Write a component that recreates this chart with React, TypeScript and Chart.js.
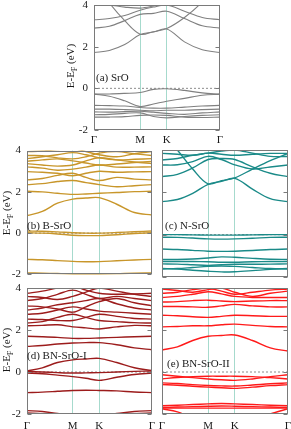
import React, { useEffect, useRef } from 'react';
import { Chart, registerables } from 'chart.js';

Chart.register(...registerables);

// k-path sample points: Γ ... M ... K ... Γ  (|ΓM| : |MK| : |KΓ| = 0.866 : 0.5 : 1)
const KX = [0, 0.289, 0.577, 0.866, 1.116, 1.366, 1.699, 2.033, 2.366];
const XMAX = 2.366;
const X_TICKS = [0, 0.866, 1.366, 2.366];
const X_LABELS = ['Γ', 'M', 'K', 'Γ'];
const Y_TICKS = [-2, 0, 2, 4];
const Y_MIN = -2;
const Y_MAX = 4;

// (a) SrO
const SRO_BANDS = [
  [1.72, 1.82, 2.1, 2.58, 2.7, 2.85, 2.23, 1.85, 1.72],
  [5.2, 4.1, 3.25, 2.6, 2.72, 2.87, 3.4, 4.15, 5.2],
  [2.89, 2.98, 3.25, 3.55, 3.6, 3.7, 3.35, 3.0, 2.89],
  [3.29, 3.35, 3.5, 3.75, 3.9, 4.0, 3.7, 3.4, 3.29],
  [4.05, 4.0, 3.9, 3.85, 3.95, 4.1, 4.2, 4.1, 4.05],
  [-0.28, -0.27, -0.24, -0.2, -0.05, -0.02, -0.1, -0.22, -0.28],
  [-0.28, -0.38, -0.6, -0.87, -0.75, -0.62, -0.48, -0.33, -0.28],
  [-0.82, -0.83, -0.85, -0.92, -0.95, -0.95, -0.9, -0.85, -0.82],
  [-1.0, -1.0, -1.02, -1.05, -1.08, -1.05, -1.05, -1.02, -1.0],
  [-1.13, -1.14, -1.12, -1.1, -1.15, -1.2, -1.25, -1.18, -1.13],
  [-1.27, -1.25, -1.2, -1.18, -1.35, -1.42, -1.35, -1.3, -1.27],
  [-1.38, -1.38, -1.36, -1.3, -1.28, -1.3, -1.38, -1.4, -1.38],
];

// (b) B-SrO
const BSRO_BANDS = [
  [-1.93, -1.94, -1.96, -1.99, -2.0, -1.99, -1.97, -1.94, -1.93],
  [-1.27, -1.29, -1.33, -1.37, -1.39, -1.38, -1.34, -1.3, -1.27],
  [0.1, 0.09, 0.06, 0.02, 0.0, 0.0, 0.03, 0.07, 0.1],
  [0.02, 0.0, -0.04, -0.1, -0.12, -0.12, -0.08, -0.02, 0.02],
  [0.85, 1.05, 1.45, 1.65, 1.7, 1.72, 1.4, 1.0, 0.88],
  [2.03, 2.0, 1.93, 1.88, 1.9, 1.93, 1.97, 2.01, 2.03],
  [2.35, 2.4, 2.5, 2.55, 2.45, 2.35, 2.25, 2.3, 2.35],
  [2.58, 2.65, 2.8, 2.9, 2.7, 2.55, 2.7, 2.62, 2.58],
  [2.98, 2.95, 2.9, 2.78, 2.9, 3.0, 2.95, 2.97, 2.98],
  [3.21, 3.15, 3.05, 3.1, 3.2, 3.3, 3.2, 3.2, 3.21],
  [3.37, 3.3, 3.25, 3.3, 3.5, 3.65, 3.55, 3.45, 3.37],
  [3.48, 3.55, 3.6, 3.5, 3.4, 3.3, 3.35, 3.42, 3.48],
  [3.61, 3.7, 3.8, 3.9, 3.8, 3.65, 3.55, 3.58, 3.61],
  [3.76, 3.75, 3.65, 3.6, 3.7, 3.88, 3.95, 3.85, 3.76],
  [3.95, 3.98, 4.05, 4.1, 3.95, 3.8, 3.7, 3.85, 3.95],
];

// (c) N-SrO
const NSRO_BANDS = [
  [0.0, 0.0, -0.01, -0.02, -0.02, -0.02, -0.01, 0.0, 0.0],
  [-0.12, -0.13, -0.16, -0.2, -0.21, -0.2, -0.17, -0.13, -0.12],
  [-0.68, -0.7, -0.74, -0.78, -0.79, -0.78, -0.75, -0.7, -0.68],
  [-1.17, -1.17, -1.15, -1.1, -1.05, -1.07, -1.12, -1.16, -1.17],
  [-1.27, -1.27, -1.27, -1.28, -1.3, -1.3, -1.28, -1.27, -1.27],
  [-1.38, -1.39, -1.42, -1.45, -1.42, -1.4, -1.4, -1.39, -1.38],
  [-1.6, -1.62, -1.68, -1.73, -1.76, -1.75, -1.7, -1.64, -1.6],
  [-1.62, -1.6, -1.55, -1.5, -1.48, -1.5, -1.55, -1.6, -1.62],
  [1.56, 1.66, 1.95, 2.38, 2.52, 2.66, 2.15, 1.7, 1.56],
  [4.9, 4.0, 3.1, 2.4, 2.55, 2.68, 3.1, 3.5, 3.84],
  [2.74, 2.85, 3.15, 3.55, 3.6, 3.55, 3.2, 2.9, 2.74],
  [3.29, 3.3, 3.45, 3.7, 3.55, 3.3, 3.1, 3.2, 3.29],
  [3.53, 3.6, 3.75, 3.85, 3.95, 4.0, 3.85, 3.7, 3.69],
  [3.84, 3.8, 3.75, 3.85, 3.8, 3.75, 3.8, 3.84, 3.84],
];

// (d) BN-SrO-I
const BNSRO1_BANDS = [
  [-1.84, -1.88, -1.97, -2.05, -2.08, -2.05, -1.97, -1.88, -1.84],
  [-1.95, -1.98, -2.03, -2.08, -2.1, -2.08, -2.03, -1.98, -1.95],
  [-0.98, -0.96, -0.92, -0.88, -0.87, -0.88, -0.9, -0.95, -0.98],
  [-0.05, -0.08, -0.15, -0.22, -0.3, -0.4, -0.25, -0.12, -0.05],
  [0.02, 0.0, -0.03, -0.05, -0.04, -0.03, 0.0, 0.03, 0.05],
  [0.05, 0.2, 0.45, 0.58, 0.62, 0.65, 0.45, 0.2, 0.07],
  [1.22, 1.26, 1.33, 1.38, 1.4, 1.4, 1.3, 1.15, 1.06],
  [1.7, 1.68, 1.65, 1.6, 1.6, 1.62, 1.65, 1.68, 1.7],
  [2.2, 2.22, 2.25, 2.15, 2.1, 2.05, 2.15, 2.22, 2.2],
  [2.33, 2.4, 2.6, 2.75, 2.6, 2.45, 2.4, 2.35, 2.33],
  [2.52, 2.5, 2.45, 2.45, 2.6, 2.75, 2.65, 2.55, 2.52],
  [2.75, 2.8, 2.95, 3.1, 3.0, 2.9, 2.85, 2.8, 2.75],
  [2.95, 3.05, 3.2, 3.3, 3.4, 3.5, 3.25, 3.05, 2.95],
  [3.15, 3.1, 3.0, 2.85, 3.1, 3.35, 3.5, 3.3, 3.15],
  [3.4, 3.5, 3.7, 3.9, 3.7, 3.5, 3.6, 3.5, 3.4],
  [3.6, 3.55, 3.45, 3.6, 3.8, 4.0, 3.85, 3.7, 3.6],
  [3.75, 3.85, 4.0, 4.1, 3.9, 3.75, 3.7, 3.72, 3.75],
];

// (e) BN-SrO-II
const BNSRO2_BANDS = [
  [-0.13, -0.2, -0.27, -0.33, -0.37, -0.4, -0.33, -0.22, -0.13],
  [-0.33, -0.26, -0.22, -0.2, -0.2, -0.2, -0.22, -0.27, -0.33],
  [-0.52, -0.55, -0.6, -0.64, -0.66, -0.67, -0.62, -0.56, -0.52],
  [-0.6, -0.63, -0.68, -0.72, -0.75, -0.78, -0.72, -0.65, -0.6],
  [-1.6, -1.58, -1.55, -1.52, -1.5, -1.52, -1.55, -1.58, -1.6],
  [-1.68, -1.67, -1.65, -1.63, -1.62, -1.63, -1.65, -1.67, -1.68],
  [-1.72, -1.72, -1.72, -1.72, -1.72, -1.72, -1.72, -1.72, -1.72],
  [-1.75, -1.9, -2.2, -2.4, -2.5, -2.45, -2.3, -2.0, -1.75],
  [1.05, 1.2, 1.5, 1.7, 1.74, 1.76, 1.5, 1.15, 1.0],
  [2.15, 2.17, 2.2, 2.2, 2.25, 2.28, 2.22, 2.17, 2.15],
  [2.7, 2.68, 2.63, 2.6, 2.65, 2.7, 2.68, 2.65, 2.65],
  [3.12, 3.12, 3.1, 3.08, 3.15, 3.22, 3.15, 3.1, 3.1],
  [3.33, 3.35, 3.4, 3.42, 3.38, 3.35, 3.38, 3.4, 3.4],
  [3.55, 3.6, 3.7, 3.82, 3.72, 3.6, 3.55, 3.55, 3.55],
  [3.75, 3.8, 3.92, 3.98, 3.85, 3.7, 3.8, 3.9, 3.95],
  [3.95, 3.88, 3.8, 3.92, 4.0, 3.8, 3.6, 3.75, 3.85],
];

const FONT = "'Liberation Serif', 'DejaVu Serif', serif";
const TEXT = '#1a1a1a';
const FRAME = '#7a7a7a';
const SYM_LINE = '#a6dacd';

const framePlugin = {
  id: 'frame',
  afterDatasetsDraw(chart: any) {
    const { ctx, chartArea: a, scales } = chart;
    const l = Math.round(a.left) + 0.5;
    const r = Math.round(a.right) - 0.5;
    const t = Math.round(a.top) + 0.5;
    const b = Math.round(a.bottom) - 0.5;
    ctx.save();
    ctx.strokeStyle = FRAME;
    ctx.lineWidth = 1;
    ctx.strokeRect(l, t, r - l, b - t);
    ctx.beginPath();
    for (const v of Y_TICKS) {
      const y = Math.round(scales.y.getPixelForValue(v)) + 0.5;
      ctx.moveTo(l, y);
      ctx.lineTo(l + 4, y);
      ctx.moveTo(r, y);
      ctx.lineTo(r - 4, y);
    }
    ctx.stroke();
    ctx.restore();
  },
};

type PanelProps = {
  bands: number[][];
  color: string;
  lw: number;
  x: number;
  y: number;
  w: number;
  h: number;
  axL: number;
  padT: number;
  padR: number;
  axB: number;
  xPad: number;
  showY: boolean;
  showX: boolean;
};

function BandPanel(p: PanelProps) {
  const ref = useRef<HTMLCanvasElement | null>(null);
  const cw = p.axL + p.w + p.padR;
  const ch = p.padT + p.h + p.axB;
  useEffect(() => {
    const datasets: any[] = p.bands.map((b) => ({
      data: b.map((e, i) => ({ x: KX[i], y: e })),
      borderColor: p.color,
      borderWidth: p.lw,
      pointRadius: 0,
      tension: 0.35,
      fill: false,
    }));
    datasets.push({
      data: [
        { x: 0, y: 0 },
        { x: XMAX, y: 0 },
      ],
      borderColor: '#8c8c8c',
      borderWidth: 1,
      borderDash: [2, 2],
      pointRadius: 0,
      tension: 0,
      fill: false,
    });
    const font = { family: FONT, size: 11 };
    const chart = new Chart(ref.current as HTMLCanvasElement, {
      type: 'line',
      data: { datasets },
      options: {
        animation: false,
        responsive: false,
        maintainAspectRatio: false,
        devicePixelRatio: 1,
        events: [],
        layout: { padding: { top: p.padT, right: p.padR, left: 0, bottom: 0 } },
        plugins: { legend: { display: false }, tooltip: { enabled: false } },
        scales: {
          x: {
            type: 'linear',
            min: 0,
            max: XMAX,
            afterBuildTicks: (s: any) => {
              s.ticks = X_TICKS.map((v) => ({ value: v }));
            },
            afterFit: (s: any) => {
              s.height = p.axB;
            },
            ticks: {
              display: p.showX,
              autoSkip: false,
              maxRotation: 0,
              padding: p.xPad,
              font,
              color: TEXT,
              callback: (_v: any, i: number) => X_LABELS[i],
            },
            grid: {
              drawTicks: false,
              lineWidth: 1,
              color: (c: any) =>
                c.tick && c.tick.value > 0 && c.tick.value < XMAX ? SYM_LINE : 'rgba(0,0,0,0)',
            },
            border: { display: false },
          },
          y: {
            type: 'linear',
            min: Y_MIN,
            max: Y_MAX,
            afterFit: (s: any) => {
              s.width = p.axL;
            },
            ticks: { display: p.showY, stepSize: 2, padding: 6, font, color: TEXT },
            grid: { display: false, drawTicks: false },
            border: { display: false },
          },
        },
      } as any,
      plugins: [framePlugin],
    });
    return () => chart.destroy();
  }, []);
  return (
    <canvas
      ref={ref}
      width={cw}
      height={ch}
      style={{ position: 'absolute', left: p.x - p.axL, top: p.y - p.padT, width: cw, height: ch }}
    />
  );
}

const txt: React.CSSProperties = {
  position: 'absolute',
  fontFamily: FONT,
  color: TEXT,
  whiteSpace: 'nowrap',
  lineHeight: '14px',
};

function YTitle({ cx, cy }: { cx: number; cy: number }) {
  return (
    <div
      style={{
        ...txt,
        fontSize: 11,
        left: cx,
        top: cy,
        transform: 'translate(-50%, -50%) rotate(-90deg)',
      }}
    >
      E-E<sub style={{ fontSize: 8, verticalAlign: '-3px' }}>F</sub> (eV)
    </div>
  );
}

function Label({ x, cy, children }: { x: number; cy: number; children: React.ReactNode }) {
  return <div style={{ ...txt, fontSize: 11, left: x, top: cy - 7 }}>{children}</div>;
}

export default function App() {
  return (
    <div
      style={{
        position: 'absolute',
        left: 0,
        top: 0,
        width: 291,
        height: 429,
        overflow: 'hidden',
        background: '#fff',
      }}
    >
      <BandPanel bands={SRO_BANDS} color="#808080" lw={1.1} x={94} y={5} w={126} h={125} axL={34} padT={15} padR={12} axB={15} xPad={4} showY showX />
      <BandPanel bands={BSRO_BANDS} color="#c8962a" lw={1.4} x={27} y={150} w={125} h={127} axL={27} padT={12} padR={5} axB={10} xPad={4} showY showX={false} />
      <BandPanel bands={NSRO_BANDS} color="#1a8a88" lw={1.4} x={162} y={150} w={126} h={127} axL={5} padT={12} padR={4} axB={10} xPad={4} showY={false} showX={false} />
      <BandPanel bands={BNSRO1_BANDS} color="#9c1c1c" lw={1.4} x={27} y={288} w={125} h={126} axL={27} padT={14} padR={12} axB={15} xPad={6} showY showX />
      <BandPanel bands={BNSRO2_BANDS} color="#ff1a1a" lw={1.4} x={162} y={288} w={126} h={126} axL={12} padT={14} padR={12} axB={15} xPad={6} showY={false} showX />

      <YTitle cx={72} cy={66} />
      <YTitle cx={8} cy={213} />
      <YTitle cx={8} cy={350} />

      <Label x={96} cy={77}>(a) SrO</Label>
      <Label x={27} cy={225}>(b) B-SrO</Label>
      <Label x={165} cy={225}>(c) N-SrO</Label>
      <Label x={27} cy={355}>(d) BN-SrO-I</Label>
      <Label x={167} cy={363}>(e) BN-SrO-II</Label>
    </div>
  );
}
